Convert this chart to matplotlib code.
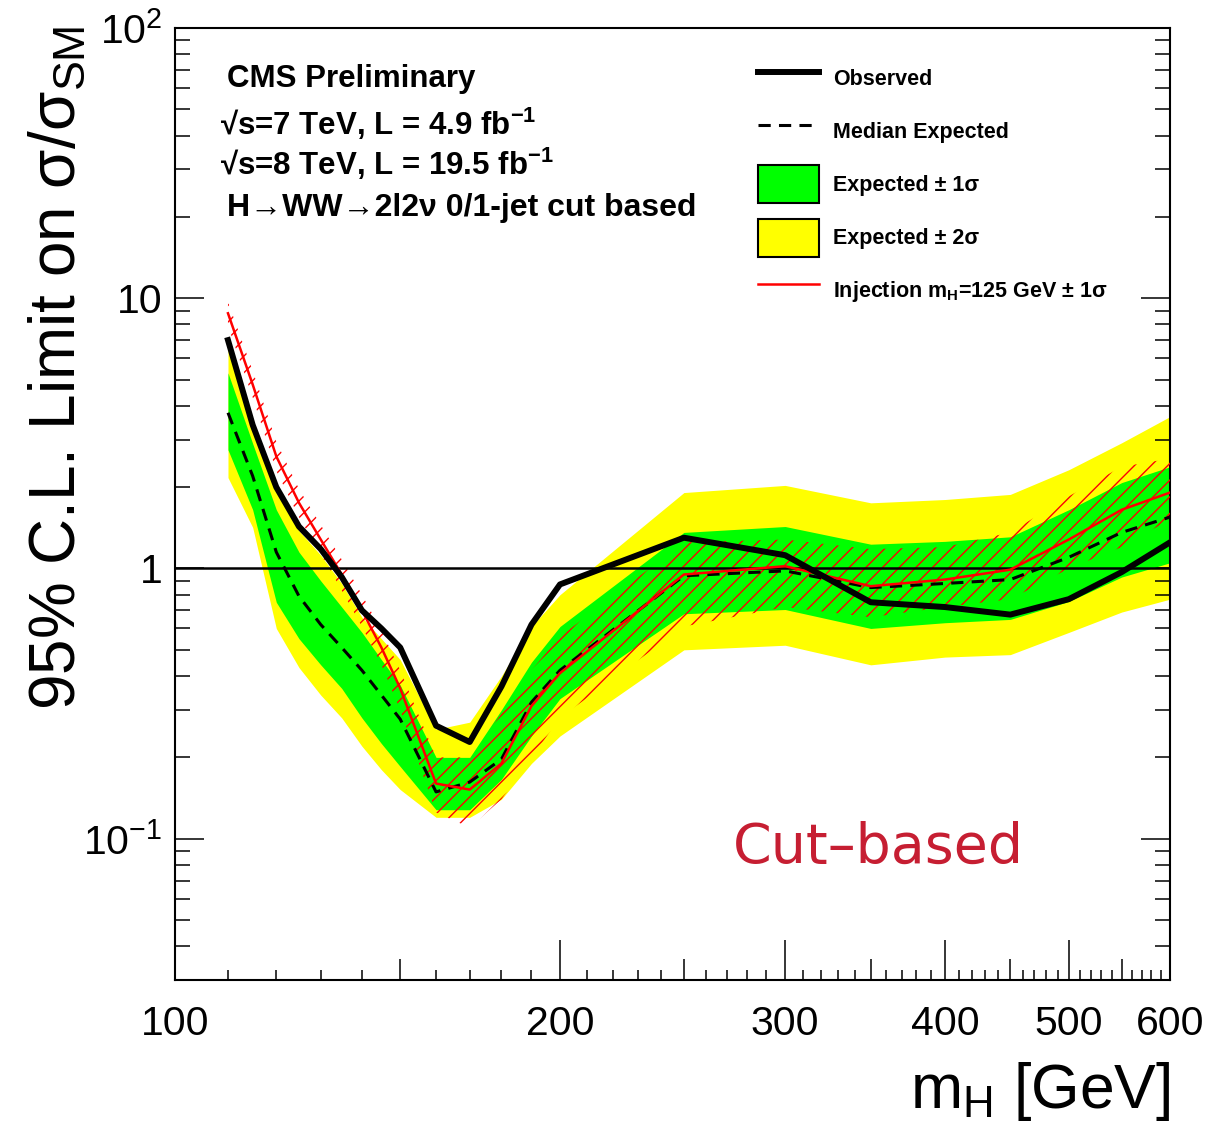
import numpy as np
import matplotlib
matplotlib.use("Agg")
import matplotlib.pyplot as plt
from matplotlib.lines import Line2D
from matplotlib.patches import Patch
from matplotlib.ticker import FixedLocator, FixedFormatter, NullFormatter

plt.rcParams['font.family'] = ['Liberation Sans', 'DejaVu Sans']
plt.rcParams['mathtext.default'] = 'regular'
plt.rcParams['hatch.linewidth'] = 1.0

# Higgs mass points [GeV]
mass = [110, 115, 120, 125, 130, 135, 140, 145, 150, 160, 170, 180, 190, 200,
        250, 300, 350, 400, 450, 500, 550, 600]
observed = [7.0, 3.4, 2.0, 1.43, 1.18, 0.93, 0.70, 0.60, 0.51, 0.262, 0.228, 0.366, 0.62, 0.873,
            1.30, 1.12, 0.75, 0.72, 0.675, 0.77, 0.97, 1.25]
expected = [3.77, 2.2, 1.15, 0.79, 0.62, 0.51, 0.42, 0.34, 0.277, 0.149, 0.162, 0.197, 0.32, 0.42,
            0.94, 0.98, 0.85, 0.88, 0.91, 1.10, 1.36, 1.55]
exp_1s_lo = [2.75, 1.65, 0.75, 0.55, 0.44, 0.36, 0.28, 0.225, 0.185, 0.128, 0.128, 0.166, 0.24, 0.33,
             0.68, 0.705, 0.60, 0.63, 0.648, 0.755, 0.93, 1.05]
exp_1s_hi = [5.3, 2.9, 1.65, 1.15, 0.9, 0.72, 0.58, 0.46, 0.37, 0.20, 0.20, 0.30, 0.45, 0.61,
             1.36, 1.43, 1.23, 1.26, 1.31, 1.65, 2.08, 2.38]
exp_2s_lo = [2.17, 1.42, 0.60, 0.43, 0.34, 0.28, 0.22, 0.18, 0.152, 0.12, 0.12, 0.14, 0.19, 0.24,
             0.50, 0.52, 0.44, 0.47, 0.48, 0.58, 0.69, 0.77]
exp_2s_hi = [6.7, 3.4, 1.95, 1.38, 1.12, 0.88, 0.66, 0.55, 0.46, 0.254, 0.27, 0.40, 0.61, 0.80,
             1.91, 2.03, 1.75, 1.80, 1.88, 2.32, 2.92, 3.65]
injection = [8.8, 4.8, 2.6, 1.75, 1.28, 0.95, 0.70, 0.51, 0.36, 0.16, 0.152, 0.19, 0.31, 0.41,
             0.95, 1.02, 0.86, 0.91, 0.99, 1.28, 1.65, 1.91]
inj_lo = [7.9, 4.3, 2.3, 1.55, 1.13, 0.83, 0.61, 0.44, 0.30, 0.125, 0.11, 0.14, 0.20, 0.28,
          0.61, 0.72, 0.66, 0.72, 0.77, 1.0, 1.2, 1.52]
inj_hi = [9.7, 5.4, 2.95, 1.97, 1.45, 1.08, 0.80, 0.59, 0.42, 0.20, 0.20, 0.29, 0.42, 0.56,
          1.25, 1.28, 1.18, 1.2, 1.36, 1.85, 2.38, 2.55]

x_major = [100, 150, 200, 250, 300, 350, 400, 450, 500, 550, 600]
x_labels = ['100', '', '200', '', '300', '', '400', '', '500', '', '600']
y_major = [0.1, 1, 10, 100]
y_labels = ['$10^{-1}$', '1', '10', '$10^{2}$']

fig = plt.figure(figsize=(12.31, 11.31), dpi=100)
ax = fig.add_axes([0.1422, 0.1335, 0.8083, 0.8417])

ax.fill_between(mass, exp_2s_lo, exp_2s_hi, color='#ffff00', linewidth=0, zorder=1)
ax.fill_between(mass, exp_1s_lo, exp_1s_hi, color='#00ff00', linewidth=0, zorder=2)
ax.fill_between(mass, inj_lo, inj_hi, facecolor='none', edgecolor='#ff0000', hatch='//',
                linewidth=0, zorder=3)
ax.axhline(1, color='black', lw=1.8, zorder=4)
ax.plot(mass, expected, color='black', lw=2.2, ls=(0, (4, 2.7)), zorder=5)
ax.plot(mass, injection, color='#ff0000', lw=1.8, zorder=6)
ax.plot(mass, observed, color='black', lw=4.3, zorder=7)

ax.set_xscale('log')
ax.set_yscale('log')
ax.set_xlim(100, 600)
ax.set_ylim(0.03, 100)

ax.xaxis.set_major_locator(FixedLocator(x_major))
ax.xaxis.set_major_formatter(FixedFormatter(x_labels))
ax.xaxis.set_minor_locator(FixedLocator(np.arange(110, 600, 10)))
ax.xaxis.set_minor_formatter(NullFormatter())
ax.yaxis.set_major_locator(FixedLocator(y_major))
ax.yaxis.set_major_formatter(FixedFormatter(y_labels))
ax.yaxis.set_minor_locator(FixedLocator([k * 10.0 ** e for e in range(-2, 2) for k in range(2, 10)]))
ax.yaxis.set_minor_formatter(NullFormatter())

ax.tick_params(axis='x', which='major', direction='in', length=29, width=1.1,
               labelsize=29.5, pad=18, top=False)
ax.tick_params(axis='x', which='minor', direction='in', length=7.5, width=1.1, top=False)
ax.tick_params(axis='y', which='major', direction='in', length=21, width=1.1,
               labelsize=29.5, pad=9, right=True)
ax.tick_params(axis='y', which='minor', direction='in', length=11, width=1.1, right=True)
for t, v in zip(ax.xaxis.get_major_ticks(), x_major):
    if v % 100:
        t.tick1line.set_markersize(15)
for s in ax.spines.values():
    s.set_linewidth(1.5)

ax.text(-0.1005, 1.003, '95% C.L. Limit on σ/σ$_{SM}$', transform=ax.transAxes,
        rotation=90, rotation_mode='anchor', ha='right', va='baseline', fontsize=46)
ax.text(1.0, -0.1345, 'm$_{H}$ [GeV]', transform=ax.transAxes,
        ha='right', va='baseline', fontsize=45)

ax.text(0.052, 0.9383, 'CMS Preliminary', transform=ax.transAxes,
        fontsize=22.5, fontweight='bold', va='baseline')
ax.text(0.045, 0.8876, '√s=7 TeV, L = 4.9 fb$^{-1}$', transform=ax.transAxes,
        fontsize=22.5, fontweight='bold', va='baseline')
ax.text(0.045, 0.8456, '√s=8 TeV, L = 19.5 fb$^{-1}$', transform=ax.transAxes,
        fontsize=22.5, fontweight='bold', va='baseline')
ax.text(0.052, 0.8025, 'H→WW→2l2ν 0/1-jet cut based', transform=ax.transAxes,
        fontsize=23, fontweight='bold', va='baseline')

ax.text(0.561, 0.1229, 'Cut–based', transform=ax.transAxes, color='#c61e32',
        fontsize=40, va='baseline', family='DejaVu Sans')

handles = [
    Line2D([], [], color='black', lw=4.3),
    Line2D([], [], color='black', lw=2.2, ls=(0, (4, 2.7))),
    Patch(facecolor='#00ff00', edgecolor='black', lw=1.5),
    Patch(facecolor='#ffff00', edgecolor='black', lw=1.5),
    Line2D([], [], color='#ff0000', lw=1.8),
]
labels = ['Observed', 'Median Expected', 'Expected ± 1σ', 'Expected ± 2σ',
          'Injection m$_{H}$=125 GeV ± 1σ']
ax.legend(handles, labels, loc='upper left', bbox_to_anchor=(0.586, 0.9672),
          frameon=False, borderpad=0, borderaxespad=0,
          prop={'size': 15.5, 'weight': 'bold'},
          handlelength=2.84, handleheight=2.34, handletextpad=0.65, labelspacing=0.7)

fig.savefig('out.png', dpi=100)
